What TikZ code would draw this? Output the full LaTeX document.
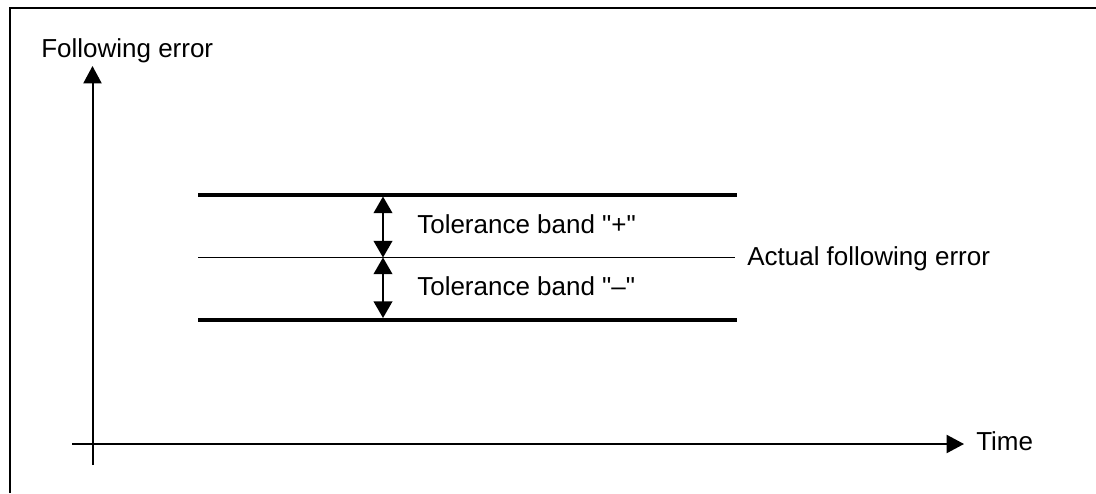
\documentclass[tikz,border=0pt]{standalone}
\usepackage{fontspec}
\setmainfont{Liberation Sans}
\usetikzlibrary{arrows.meta}
\begin{document}
\begin{tikzpicture}[
        x=0.75pt, y=-0.75pt,
        axis/.style={line width=1.5pt, -{Triangle[length=13pt,width=13.5pt]}},
        band/.style={line width=3pt},
        gauge/.style={line width=1.5pt, {Triangle[length=12.5pt,width=14pt]}-{Triangle[length=12.5pt,width=14pt]}},
        label/.style={anchor=base west, inner sep=0pt, font=\fontsize{19.5}{23}\selectfont}
    ]
        \useasboundingbox (0, 0) rectangle (1096, 493);
        % frame
        \draw[line width=1.5pt] (9.5, 493) -- (9.5, 7.5) -- (1096, 7.5);
        % axes
        \coordinate (yfoot) at (92.5, 465);
        \coordinate (ytip) at (92.5, 66);
        \coordinate (xfoot) at (72, 444);
        \coordinate (xtip) at (964, 444);
        \draw[axis] (yfoot) -- (ytip);
        \draw[axis] (xfoot) -- (xtip);
        \node[label] (yname) at (41, 57) {Following error};
        \node[label] (xname) at (976, 450) {Time};
        % band lines
        \coordinate (top1) at (198, 195);
        \coordinate (top2) at (737, 195);
        \coordinate (mid1) at (198, 257.5);
        \coordinate (mid2) at (735, 257.5);
        \coordinate (low1) at (198, 319.5);
        \coordinate (low2) at (737, 319.5);
        \draw[band] (top1) -- (top2);
        \draw[line width=1.2pt] (mid1) -- (mid2);
        \draw[band] (low1) -- (low2);
        \node[label] (actual) at (747, 265) {Actual following error};
        % tolerance arrows
        \coordinate (up) at (383, 196.5);
        \coordinate (zero) at (383, 257.5);
        \coordinate (down) at (383, 318);
        \draw[gauge] (up) -- (zero);
        \draw[gauge] (zero) -- (down);
        \node[label] (plus) at (417, 233) {Tolerance band \textquotedbl+\textquotedbl};
        \node[label] (minus) at (417, 295) {Tolerance band \textquotedbl\textendash\textquotedbl};
    \end{tikzpicture}
\end{document}
